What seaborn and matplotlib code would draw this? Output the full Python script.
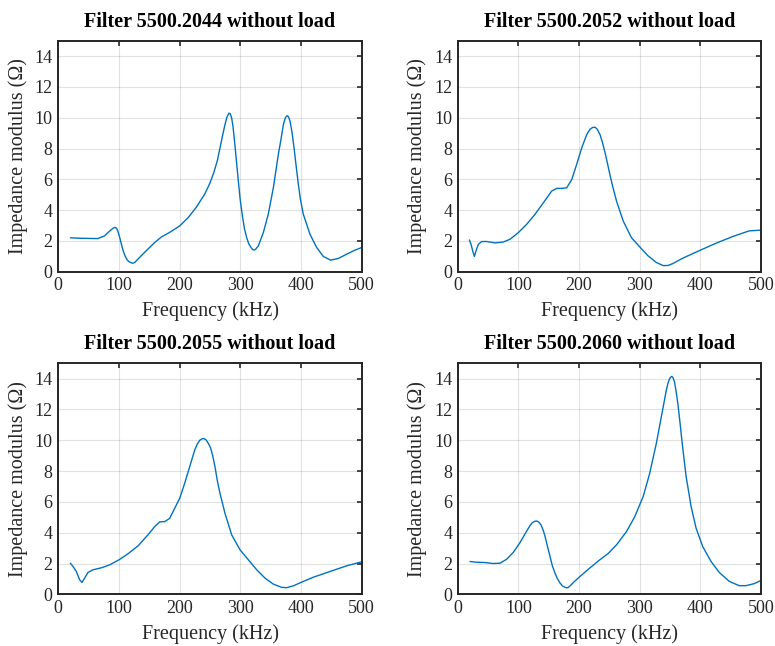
import numpy as np
import pandas as pd
import matplotlib
matplotlib.use("Agg")
import matplotlib.pyplot as plt
import seaborn as sns

titles = ["Filter 5500.2044 without load", "Filter 5500.2052 without load",
          "Filter 5500.2055 without load", "Filter 5500.2060 without load"]

f_2044 = [20, 38, 65, 76, 85, 90, 93, 96, 98, 101, 104, 107, 110, 113, 116, 120, 123, 126, 131, 142, 159, 170,
          183, 200, 214, 227, 241, 249, 256, 262, 266.5, 271, 274.7, 278, 281.3, 283.5, 285.7, 288, 291, 294,
          296.7, 300, 303.8, 307, 310.4, 314, 317.6, 320, 322.5, 325, 329.7, 337.9, 346, 354.4, 362.6, 367,
          370.9, 374, 377, 379.5, 381.9, 385, 388.5, 392, 395.6, 399, 403.8, 414.8, 425.8, 436.8, 448.9,
          461.5, 475.3, 489, 500]
z_2044 = [2.2, 2.17, 2.15, 2.32, 2.65, 2.82, 2.88, 2.82, 2.65, 2.25, 1.78, 1.35, 1.03, 0.8, 0.66, 0.58, 0.55,
          0.6, 0.81, 1.25, 1.9, 2.26, 2.54, 2.97, 3.51, 4.16, 5.02, 5.67, 6.4, 7.2, 8.04, 8.9, 9.55, 10.05,
          10.3, 10.25, 9.98, 9.4, 8.25, 7.0, 5.88, 4.6, 3.51, 2.75, 2.22, 1.8, 1.57, 1.45, 1.4, 1.45, 1.68,
          2.54, 3.73, 5.45, 7.61, 8.6, 9.55, 9.98, 10.13, 10.05, 9.77, 9.1, 8.04, 6.85, 5.67, 4.7, 3.73, 2.43,
          1.57, 0.99, 0.75, 0.86, 1.14, 1.4, 1.57]

f_2052 = [19.2, 22, 24.7, 27.5, 30.2, 34, 39.6, 47.8, 61.5, 75.3, 86.3, 100, 113.7, 127.5, 141.2, 155, 163.2,
          171.4, 179.7, 188, 196, 204.4, 212.6, 218, 222, 226.4, 230, 234.6, 238.5, 242.9, 247, 251, 256,
          261.7, 272.7, 286.3, 300, 313.7, 327.3, 338.3, 346.4, 354.6, 371, 400, 425.7, 453, 480.3, 500]
z_2052 = [2.06, 1.78, 1.35, 0.99, 1.35, 1.78, 1.96, 1.96, 1.87, 1.93, 2.11, 2.54, 3.08, 3.73, 4.48, 5.24, 5.41,
          5.41, 5.45, 5.99, 6.96, 8.04, 8.9, 9.25, 9.36, 9.38, 9.25, 8.9, 8.4, 7.72, 7.0, 6.27, 5.45,
          4.59, 3.3, 2.21, 1.61, 1.03, 0.6, 0.4, 0.4, 0.53, 0.88, 1.4, 1.85, 2.28, 2.65, 2.7]

f_2055 = [19.8, 24.2, 29.7, 35.2, 39, 43.4, 48.9, 57.1, 70.9, 84.6, 100, 114.8, 131.3, 147.8, 158.8, 167, 175.3,
          183.5, 191.8, 200, 208.2, 216.5, 224.7, 229, 233, 237, 240.1, 243, 245.6, 248, 251, 254.5, 258.2,
          262, 266.5, 274.7, 285.7, 299.5, 313.2, 327, 340.7, 354.4, 368.1, 376.4, 387.4, 400, 420.3, 447.8,
          475.3, 500]
z_2055 = [2.02, 1.81, 1.48, 0.94, 0.77, 1.05, 1.42, 1.59, 1.72, 1.91, 2.24, 2.63, 3.14, 3.86, 4.39, 4.7, 4.72,
          4.93, 5.58, 6.23, 7.2, 8.28, 9.36, 9.75, 10.0, 10.1, 10.11, 10.05, 9.9, 9.75, 9.5, 9.0, 8.28,
          7.4, 6.55, 5.26, 3.86, 2.89, 2.24, 1.59, 1.05, 0.66, 0.45, 0.43, 0.55, 0.77, 1.11, 1.48, 1.85, 2.11]

f_2060 = [20.3, 28.6, 45, 58.8, 69.8, 80.8, 91.8, 102.7, 113.7, 119, 123, 127, 130.2, 134, 137.4, 141, 144,
          148, 152.2, 156, 160.4, 164.5, 168.7, 172.5, 176.9, 180, 182.4, 186, 190.7, 201.6, 215.4, 231.9, 248,
          261.7, 278.1, 291.8, 305.5, 316.4, 327.3, 335.5, 340, 343.7, 346.5, 349.2, 351, 353, 355, 357.4,
          359.8, 362.8, 366.5, 370, 376.5, 384.7, 392.9, 403.8, 417.5, 431.1, 447.5, 463.9, 474.9, 488.5, 500]
z_2060 = [2.13, 2.09, 2.06, 2.0, 2.02, 2.28, 2.73, 3.36, 4.11, 4.45, 4.65, 4.74, 4.76, 4.68, 4.5, 4.15, 3.75,
          3.1, 2.45, 1.85, 1.37, 1.0, 0.73, 0.55, 0.45, 0.42, 0.45, 0.58, 0.77, 1.16, 1.63, 2.17, 2.65,
          3.21, 4.07, 5.04, 6.33, 7.85, 9.79, 11.51, 12.45, 13.24, 13.7, 14.0, 14.1, 14.15, 14.05, 13.78,
          13.2, 12.38, 11.1, 9.79, 7.63, 5.69, 4.29, 3.1, 2.13, 1.42, 0.84, 0.56, 0.56, 0.69, 0.9]

freqs = [f_2044, f_2052, f_2055, f_2060]
imps = [z_2044, z_2052, z_2055, z_2060]

x_ticks = [0, 100, 200, 300, 400, 500]
y_ticks = [0, 2, 4, 6, 8, 10, 12, 14]

sns.set_style("white")
plt.rcParams['font.family'] = ['Liberation Serif', 'DejaVu Serif']

fig = plt.figure(figsize=(7.75, 6.46), dpi=100)
W, H = 775, 646
boxes = [(58.3, 40.7), (457.7, 40.7), (58.3, 363.3), (457.7, 363.3)]
aw, ah = 303.4, 231.0
dark = "#262626"
for i in range(4):
    l, t = boxes[i]
    ax = fig.add_axes([l / W, 1 - (t + ah) / H, aw / W, ah / H])
    df = pd.DataFrame({"f": freqs[i], "z": imps[i]})
    sns.lineplot(data=df, x="f", y="z", ax=ax, color="#0072BD", linewidth=1.0, sort=False)
    ax.set_xlim(0, 500)
    ax.set_ylim(0, 15)
    ax.set_xticks(x_ticks)
    ax.set_yticks(y_ticks)
    ax.grid(True, color=dark, alpha=0.13, linewidth=0.8)
    ax.tick_params(direction="in", top=True, right=True, length=3.5, width=1.2,
                   colors=dark, labelsize=13, pad=4)
    for s in ax.spines.values():
        s.set_visible(True)
        s.set_color(dark)
        s.set_linewidth(1.4)
    ax.set_xlabel("Frequency (kHz)", fontsize=14.5, color=dark, labelpad=5)
    ax.set_ylabel("Impedance modulus (\u03a9)", fontsize=14.5, color=dark, labelpad=5)
    ax.set_title(titles[i], fontsize=14.5, fontweight="bold", color="black", pad=10)

fig.savefig("out.png", dpi=100, facecolor="white")
